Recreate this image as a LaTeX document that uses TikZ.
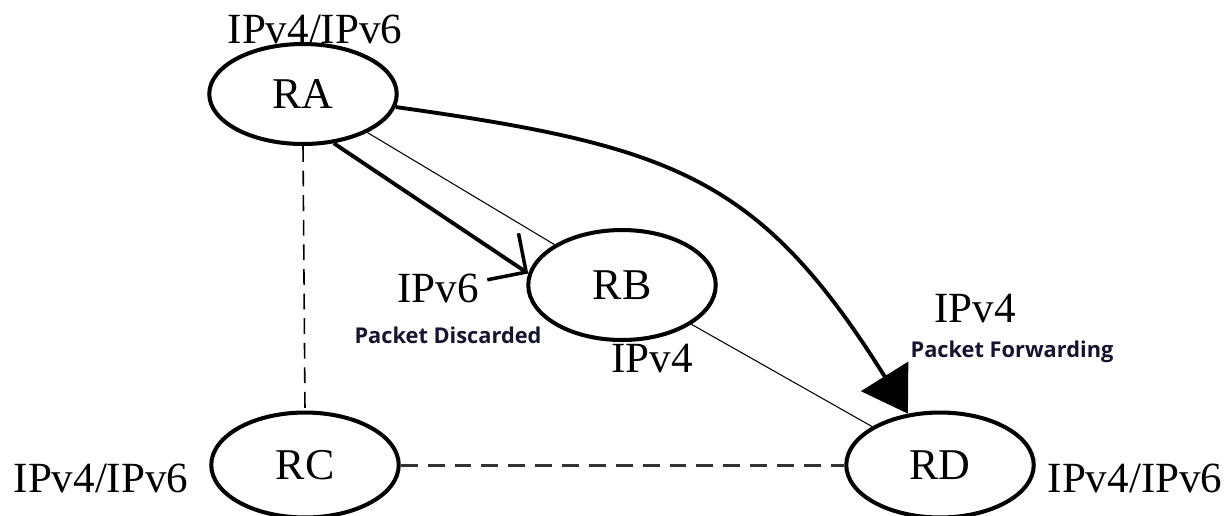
\documentclass[tikz,border=0pt]{standalone}
\usepackage{fontspec}
\setmainfont{Liberation Serif}
\setsansfont{Open Sans}
\usetikzlibrary{shapes.geometric, arrows.meta, positioning}
\definecolor{tagnavy}{HTML}{14142E}

\begin{document}
\begin{tikzpicture}[
    x=0.02cm, y=-0.02cm,
    router/.style = {ellipse, draw, line width=2.3pt, fill=white, inner sep=0pt,
                     minimum width=3.75cm, minimum height=2.1cm,
                     font=\fontsize{25}{28}\selectfont},
    ipv/.style    = {anchor=base, inner sep=0pt, font=\fontsize{24.5}{28}\selectfont},
    tag/.style    = {anchor=base, inner sep=0pt, text=tagnavy,
                     font=\sffamily\bfseries\fontsize{12.4}{14}\selectfont},
    link/.style   = {line width=0.6pt},
    vdash/.style  = {line width=0.9pt, dash pattern=on 9pt off 5pt},
    hdash/.style  = {line width=1.7pt, draw=black!80, dash pattern=on 9.6pt off 5.7pt},
    drop/.style   = {line width=2.2pt, -{Straight Barb[length=0.56cm, width=1.12cm, line width=2pt]}},
    fwd/.style    = {line width=2.2pt, -{Triangle[length=0.88cm, width=1.1cm]}}
  ]
  \useasboundingbox (0,0) rectangle (1229,515);

  % Routers
  \node[router, minimum height=2cm] (ra) at (303,94)  {RA};
  \node[router, minimum height=2.2cm] (rb) at (622,285) {RB};
  \node[router] (rc) at (305,465) {RC};
  \node[router] (rd) at (940,465) {RD};

  % Address labels
  \node[ipv] (ratag) at (315,43)  {IPv4/IPv6};
  \node[ipv] (rbin)  at (438,302) {IPv6};
  \node[ipv] (rbout) at (652,372) {IPv4};
  \node[ipv] (rdin)  at (975,322) {IPv4};
  \node[ipv] (rctag) at (101,492) {IPv4/IPv6};
  \node[ipv] (rdtag) at (1135,492) {IPv4/IPv6};
  \node[tag] (droptag) at (448,343) {Packet Discarded};
  \node[tag] (fwdtag)  at (1012,357) {Packet Forwarding};

  % Links
  \draw[link]  (ra) -- (rb);
  \draw[link]  (rb) -- (rd);
  \draw[vdash] (ra.south) -- (rc.north);
  \draw[hdash] (rc) -- (rd);

  % Packet paths
  \draw[drop] (ra.-58) -- (rb.173);
  \draw[fwd]  (ra.-8) to[out=-8, in=122, looseness=1.2] (rd.122);
\end{tikzpicture}
\end{document}
